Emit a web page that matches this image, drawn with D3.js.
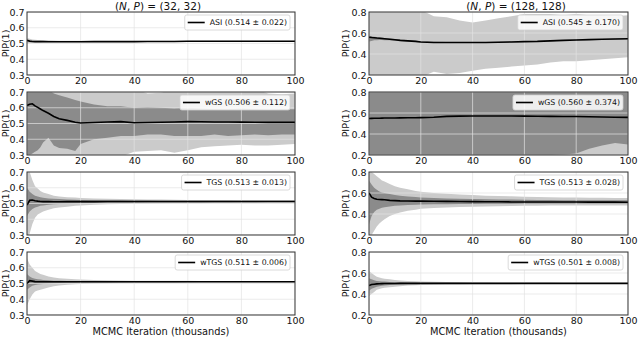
<!DOCTYPE html>
<html>
<head>
<meta charset="utf-8">
<script src="https://cdn.jsdelivr.net/npm/d3@7"></script>
<style>
body { margin: 0; background: #fff; }
svg { display: block; }
</style>
</head>
<body>
<script>
var iters = [0, 1, 2, 3, 4, 5, 6, 8, 10, 12,
             15, 18, 20, 25, 30, 35, 40, 45, 50, 55,
             60, 65, 70, 75, 80, 85, 90, 95, 100];

var xTicks = [0, 20, 40, 60, 80, 100];
var yTicksLeft = [0.3, 0.4, 0.5, 0.6, 0.7];
var yTicksRight = [0.2, 0.4, 0.6, 0.8];

var titles = ["(32, 32)", "(128, 128)"];
var legendLeft = ["ASI (0.514 \u00b1 0.022)", "wGS (0.506 \u00b1 0.112)", "TGS (0.513 \u00b1 0.013)", "wTGS (0.511 \u00b1 0.006)"];
var legendRight = ["ASI (0.545 \u00b1 0.170)", "wGS (0.560 \u00b1 0.374)", "TGS (0.513 \u00b1 0.028)", "wTGS (0.501 \u00b1 0.008)"];

// ---- (N,P) = (32,32) ----
var asiMeanL = [0.520,0.515,0.513,0.512,0.512,0.512,0.512,0.511,0.511,0.511,
  0.511,0.511,0.511,0.512,0.512,0.512,0.512,0.513,0.513,0.513,
  0.514,0.514,0.514,0.514,0.514,0.514,0.514,0.514,0.514];
var asiOutHiL = [0.535,0.530,0.526,0.524,0.523,0.522,0.521,0.520,0.519,0.518,
  0.518,0.517,0.517,0.516,0.516,0.516,0.516,0.517,0.517,0.517,
  0.517,0.518,0.518,0.518,0.517,0.517,0.517,0.517,0.517];
var asiOutLoL = [0.500,0.502,0.503,0.504,0.505,0.505,0.506,0.506,0.506,0.507,
  0.507,0.507,0.507,0.508,0.508,0.508,0.508,0.509,0.509,0.509,
  0.510,0.510,0.510,0.511,0.511,0.511,0.511,0.511,0.511];

var wgsMeanL = [0.615,0.622,0.625,0.612,0.602,0.592,0.582,0.565,0.545,0.530,
  0.520,0.508,0.503,0.506,0.510,0.512,0.505,0.506,0.508,0.510,
  0.512,0.511,0.510,0.510,0.509,0.508,0.507,0.507,0.507];
var wgsInHiL = [0.720,0.720,0.720,0.720,0.720,0.720,0.720,0.715,0.690,0.680,
  0.665,0.650,0.640,0.620,0.610,0.610,0.600,0.605,0.600,0.595,
  0.600,0.595,0.590,0.590,0.595,0.590,0.585,0.590,0.590];
var wgsInLoL = [0.300,0.300,0.310,0.320,0.330,0.350,0.380,0.410,0.360,0.345,
  0.340,0.325,0.370,0.400,0.410,0.420,0.420,0.430,0.430,0.420,
  0.420,0.420,0.430,0.420,0.425,0.430,0.425,0.430,0.430];
var wgsOutHiL = [0.720,0.720,0.720,0.720,0.720,0.720,0.720,0.720,0.720,0.720,
  0.720,0.720,0.720,0.720,0.720,0.720,0.720,0.690,0.695,0.720,
  0.720,0.720,0.720,0.720,0.720,0.720,0.690,0.685,0.690];
var wgsOutLoL = [0.280,0.280,0.280,0.280,0.280,0.280,0.280,0.280,0.280,0.280,
  0.280,0.280,0.280,0.280,0.280,0.290,0.320,0.325,0.330,0.315,
  0.330,0.350,0.355,0.360,0.365,0.360,0.360,0.365,0.370];

var tgsMeanL = [0.490,0.520,0.522,0.518,0.515,0.513,0.512,0.512,0.511,0.511,
  0.512,0.512,0.512,0.512,0.513,0.513,0.513,0.513,0.513,0.513,
  0.513,0.513,0.513,0.513,0.513,0.513,0.513,0.513,0.513];
var tgsOutHiL = [0.720,0.700,0.650,0.610,0.595,0.580,0.570,0.560,0.550,0.545,
  0.540,0.538,0.535,0.532,0.530,0.528,0.527,0.526,0.525,0.524,
  0.523,0.523,0.522,0.522,0.521,0.521,0.520,0.520,0.520];
var tgsOutLoL = [0.280,0.310,0.370,0.410,0.430,0.440,0.450,0.460,0.470,0.475,
  0.480,0.485,0.488,0.492,0.495,0.497,0.498,0.499,0.500,0.501,
  0.502,0.502,0.503,0.503,0.504,0.504,0.505,0.505,0.505];
var tgsInHiL = [0.600,0.575,0.560,0.550,0.545,0.540,0.536,0.532,0.530,0.528,
  0.526,0.524,0.523,0.521,0.520,0.520,0.519,0.519,0.518,0.518,
  0.518,0.518,0.518,0.517,0.517,0.517,0.517,0.517,0.517];
var tgsInLoL = [0.420,0.450,0.465,0.475,0.480,0.485,0.488,0.492,0.495,0.497,
  0.499,0.500,0.501,0.503,0.504,0.505,0.505,0.506,0.506,0.507,
  0.507,0.507,0.508,0.508,0.508,0.508,0.509,0.509,0.509];

var wtgsMeanL = [0.500,0.518,0.515,0.512,0.511,0.511,0.511,0.511,0.511,0.511,
  0.511,0.511,0.511,0.511,0.511,0.511,0.511,0.511,0.511,0.511,
  0.511,0.511,0.511,0.511,0.511,0.511,0.511,0.511,0.511];
var wtgsOutHiL = [0.660,0.620,0.600,0.580,0.570,0.560,0.555,0.545,0.538,0.534,
  0.530,0.527,0.525,0.522,0.520,0.519,0.518,0.518,0.517,0.517,
  0.517,0.516,0.516,0.516,0.516,0.516,0.516,0.516,0.516];
var wtgsOutLoL = [0.360,0.400,0.430,0.450,0.455,0.460,0.465,0.475,0.482,0.487,
  0.492,0.495,0.497,0.500,0.502,0.503,0.504,0.504,0.505,0.505,
  0.505,0.506,0.506,0.506,0.506,0.506,0.506,0.506,0.506];
var wtgsInHiL = [0.560,0.545,0.535,0.530,0.527,0.525,0.523,0.520,0.518,0.517,
  0.516,0.515,0.515,0.514,0.514,0.513,0.513,0.513,0.513,0.513,
  0.513,0.513,0.513,0.513,0.513,0.513,0.513,0.513,0.513];
var wtgsInLoL = [0.460,0.475,0.485,0.490,0.493,0.495,0.497,0.500,0.502,0.503,
  0.504,0.505,0.506,0.507,0.507,0.508,0.508,0.508,0.508,0.508,
  0.509,0.509,0.509,0.509,0.509,0.509,0.509,0.509,0.509];

// ---- (N,P) = (128,128) ----
var asiMeanR = [0.560,0.557,0.555,0.552,0.550,0.548,0.545,0.540,0.535,0.530,
  0.525,0.520,0.515,0.510,0.510,0.510,0.510,0.510,0.512,0.515,
  0.518,0.520,0.525,0.530,0.533,0.537,0.540,0.543,0.545];
var asiOutHiR = [0.820,0.820,0.820,0.820,0.820,0.820,0.820,0.820,0.820,0.820,
  0.820,0.820,0.820,0.760,0.750,0.720,0.700,0.720,0.740,0.760,
  0.780,0.780,0.780,0.770,0.780,0.770,0.770,0.760,0.770];
var asiOutLoR = [0.180,0.180,0.180,0.180,0.180,0.180,0.180,0.180,0.180,0.180,
  0.180,0.180,0.180,0.230,0.210,0.220,0.240,0.260,0.270,0.280,
  0.290,0.300,0.320,0.330,0.330,0.340,0.350,0.360,0.370];
var asiInHiR = [0.575,0.570,0.565,0.562,0.560,0.557,0.553,0.548,0.542,0.537,
  0.531,0.526,0.521,0.516,0.515,0.515,0.515,0.515,0.516,0.519,
  0.522,0.524,0.529,0.534,0.537,0.541,0.544,0.547,0.549];
var asiInLoR = [0.520,0.525,0.530,0.532,0.533,0.533,0.532,0.530,0.527,0.523,
  0.519,0.514,0.509,0.505,0.505,0.505,0.505,0.505,0.508,0.511,
  0.514,0.516,0.521,0.526,0.529,0.533,0.536,0.539,0.541];

var wgsMeanR = [0.548,0.549,0.550,0.550,0.550,0.551,0.552,0.553,0.553,0.554,
  0.555,0.555,0.556,0.560,0.568,0.570,0.572,0.572,0.572,0.571,
  0.570,0.569,0.568,0.567,0.566,0.564,0.562,0.560,0.558];
var wgsInHiR = [0.820,0.820,0.820,0.820,0.820,0.820,0.820,0.820,0.820,0.820,
  0.820,0.820,0.820,0.820,0.820,0.820,0.820,0.820,0.820,0.820,
  0.820,0.820,0.820,0.820,0.820,0.820,0.820,0.820,0.820];
var wgsInLoR = [0.180,0.180,0.180,0.180,0.180,0.180,0.180,0.180,0.180,0.180,
  0.180,0.180,0.180,0.180,0.180,0.180,0.180,0.180,0.180,0.180,
  0.180,0.195,0.200,0.205,0.215,0.260,0.290,0.315,0.300];
var wgsOutHiR = [0.820,0.820,0.820,0.820,0.820,0.820,0.820,0.820,0.820,0.820,
  0.820,0.820,0.820,0.820,0.820,0.820,0.820,0.820,0.820,0.820,
  0.820,0.820,0.820,0.820,0.820,0.820,0.820,0.820,0.820];
var wgsOutLoR = [0.180,0.180,0.180,0.180,0.180,0.180,0.180,0.180,0.180,0.180,
  0.180,0.180,0.180,0.180,0.180,0.180,0.180,0.180,0.180,0.180,
  0.180,0.180,0.180,0.180,0.180,0.180,0.180,0.180,0.180];

var tgsMeanR = [0.600,0.560,0.548,0.540,0.538,0.537,0.535,0.530,0.527,0.525,
  0.524,0.523,0.523,0.522,0.520,0.519,0.518,0.517,0.516,0.515,
  0.515,0.515,0.515,0.514,0.514,0.513,0.513,0.513,0.512];
var tgsOutHiR = [0.820,0.800,0.780,0.760,0.740,0.720,0.710,0.685,0.665,0.650,
  0.635,0.620,0.612,0.600,0.592,0.586,0.580,0.575,0.572,0.568,
  0.565,0.562,0.560,0.558,0.556,0.555,0.554,0.553,0.552];
var tgsOutLoR = [0.180,0.200,0.240,0.280,0.310,0.330,0.350,0.380,0.400,0.415,
  0.430,0.440,0.450,0.458,0.463,0.467,0.470,0.472,0.475,0.477,
  0.478,0.479,0.480,0.480,0.481,0.481,0.482,0.482,0.482];
var tgsInHiR = [0.720,0.680,0.650,0.630,0.615,0.605,0.600,0.590,0.580,0.573,
  0.566,0.561,0.558,0.552,0.548,0.545,0.542,0.540,0.538,0.537,
  0.535,0.534,0.533,0.532,0.531,0.531,0.530,0.530,0.530];
var tgsInLoR = [0.300,0.380,0.420,0.440,0.450,0.460,0.465,0.472,0.478,0.482,
  0.486,0.488,0.490,0.492,0.494,0.495,0.496,0.497,0.498,0.498,
  0.499,0.499,0.500,0.500,0.500,0.500,0.501,0.501,0.501];

var wtgsMeanR = [0.480,0.490,0.493,0.496,0.498,0.499,0.500,0.500,0.500,0.501,
  0.501,0.501,0.501,0.501,0.501,0.501,0.501,0.501,0.501,0.501,
  0.501,0.501,0.501,0.501,0.501,0.501,0.501,0.501,0.501];
var wtgsOutHiR = [0.620,0.600,0.580,0.565,0.557,0.550,0.545,0.540,0.533,0.528,
  0.525,0.522,0.520,0.517,0.515,0.513,0.512,0.511,0.510,0.510,
  0.509,0.509,0.509,0.508,0.508,0.508,0.508,0.508,0.508];
var wtgsOutLoR = [0.380,0.400,0.420,0.440,0.448,0.455,0.460,0.465,0.470,0.475,
  0.480,0.483,0.485,0.488,0.490,0.491,0.492,0.493,0.494,0.494,
  0.495,0.495,0.495,0.495,0.495,0.495,0.495,0.495,0.495];
var wtgsInHiR = [0.550,0.540,0.530,0.525,0.522,0.520,0.518,0.515,0.513,0.512,
  0.510,0.509,0.508,0.507,0.506,0.506,0.505,0.505,0.505,0.504,
  0.504,0.504,0.504,0.504,0.504,0.504,0.504,0.504,0.504];
var wtgsInLoR = [0.430,0.450,0.460,0.468,0.473,0.478,0.482,0.486,0.489,0.491,
  0.493,0.494,0.495,0.496,0.497,0.497,0.498,0.498,0.498,0.498,
  0.498,0.498,0.498,0.498,0.498,0.498,0.498,0.498,0.498];

// table for drawing
var columns = [
  { yDomain: [0.3, 0.7], yTicks: yTicksLeft, title: titles[0], panels: [
    { label: legendLeft[0], mean: asiMeanL, outHi: asiOutHiL, outLo: asiOutLoL },
    { label: legendLeft[1], mean: wgsMeanL, outHi: wgsOutHiL, outLo: wgsOutLoL, inHi: wgsInHiL, inLo: wgsInLoL },
    { label: legendLeft[2], mean: tgsMeanL, outHi: tgsOutHiL, outLo: tgsOutLoL, inHi: tgsInHiL, inLo: tgsInLoL },
    { label: legendLeft[3], mean: wtgsMeanL, outHi: wtgsOutHiL, outLo: wtgsOutLoL, inHi: wtgsInHiL, inLo: wtgsInLoL }
  ]},
  { yDomain: [0.2, 0.8], yTicks: yTicksRight, title: titles[1], panels: [
    { label: legendRight[0], mean: asiMeanR, outHi: asiOutHiR, outLo: asiOutLoR, inHi: asiInHiR, inLo: asiInLoR },
    { label: legendRight[1], mean: wgsMeanR, outHi: wgsOutHiR, outLo: wgsOutLoR, inHi: wgsInHiR, inLo: wgsInLoR },
    { label: legendRight[2], mean: tgsMeanR, outHi: tgsOutHiR, outLo: tgsOutLoR, inHi: tgsInHiR, inLo: tgsInLoR },
    { label: legendRight[3], mean: wtgsMeanR, outHi: wtgsOutHiR, outLo: wtgsOutLoR, inHi: wtgsInHiR, inLo: wtgsInLoR }
  ]}
];

// layout
var width = 640, height = 337;
var colLeft = [27, 369], colRight = [295, 628];
var titleX = [158, 516], yLabelX = [6, 346];
var rowTop = [12, 92, 172, 252], panelH = 63;
var lightGray = "#cbcbcb", darkGray = "#8b8b8b";

var svg = d3.select("body").append("svg")
    .attr("width", width)
    .attr("height", height)
    .style("font-family", "'DejaVu Sans', sans-serif");

var idx = d3.range(iters.length);

columns.forEach(function(col, ci){
    var x = d3.scaleLinear().domain([0, 100]).range([colLeft[ci], colRight[ci]]);

    //column title with italic N, P
    var t = svg.append("text")
        .attr("x", titleX[ci]).attr("y", 10)
        .attr("text-anchor", "middle")
        .style("font-size", "10.5px").attr("fill", "#111");
    t.append("tspan").text("(");
    t.append("tspan").style("font-style", "italic").text("N");
    t.append("tspan").text(", ");
    t.append("tspan").style("font-style", "italic").text("P");
    t.append("tspan").text(") = " + col.title);

    col.panels.forEach(function(p, ri){
        var top = rowTop[ri], bottom = top + panelH;
        var y = d3.scaleLinear().domain(col.yDomain).range([bottom, top]);
        var g = svg.append("g");
        var clipId = "clip" + ci + ri;

        g.append("clipPath").attr("id", clipId)
          .append("rect")
            .attr("x", x(0)).attr("y", top)
            .attr("width", x(100) - x(0)).attr("height", panelH);

        var plot = g.append("g").attr("clip-path", "url(#" + clipId + ")");

        function band(hi, lo){
            return d3.area()
                .x(function(i){ return x(iters[i]); })
                .y0(function(i){ return y(lo[i]); })
                .y1(function(i){ return y(hi[i]); })(idx);
        }

        plot.append("path").attr("d", band(p.outHi, p.outLo)).attr("fill", lightGray);
        if (p.inHi) {
            plot.append("path").attr("d", band(p.inHi, p.inLo)).attr("fill", darkGray);
        }

        //grid on top of the bands
        plot.selectAll(".gx").data(xTicks).enter().append("line")
            .attr("x1", function(d){ return x(d); }).attr("x2", function(d){ return x(d); })
            .attr("y1", top).attr("y2", bottom)
            .attr("stroke", "#e2e2e2").attr("stroke-opacity", 0.7).attr("stroke-width", 1);
        plot.selectAll(".gy").data(col.yTicks).enter().append("line")
            .attr("x1", x(0)).attr("x2", x(100))
            .attr("y1", function(d){ return y(d); }).attr("y2", function(d){ return y(d); })
            .attr("stroke", "#e2e2e2").attr("stroke-opacity", 0.7).attr("stroke-width", 1);

        plot.append("path")
            .attr("d", d3.line()
                .x(function(i){ return x(iters[i]); })
                .y(function(i){ return y(p.mean[i]); })(idx))
            .attr("fill", "none")
            .attr("stroke", "#000")
            .attr("stroke-width", 1.6);

        //frame
        g.append("rect")
            .attr("x", x(0)).attr("y", top)
            .attr("width", x(100) - x(0)).attr("height", panelH)
            .attr("fill", "none").attr("stroke", "#333").attr("stroke-width", 1);

        //axes
        var xa = g.append("g")
            .attr("transform", "translate(0," + bottom + ")")
            .call(d3.axisBottom(x).tickValues(xTicks).tickSize(0).tickPadding(2.5));
        var ya = g.append("g")
            .attr("transform", "translate(" + x(0) + ",0)")
            .call(d3.axisLeft(y).tickValues(col.yTicks).tickSize(0).tickPadding(2.5)
                .tickFormat(d3.format(".1f")));
        [xa, ya].forEach(function(a){
            a.select(".domain").remove();
            a.selectAll("text")
                .style("font-family", "'DejaVu Sans', sans-serif")
                .style("font-size", "9.5px")
                .attr("fill", "#111");
        });

        //y label
        svg.append("text")
            .attr("transform", "translate(" + yLabelX[ci] + "," + (top + panelH / 2) + ") rotate(-90)")
            .attr("text-anchor", "middle")
            .attr("dy", "0.35em")
            .style("font-size", "9.5px").attr("fill", "#111")
            .text("PIP(1)");

        //legend
        var lg = g.append("g");
        var box = lg.append("rect")
            .attr("rx", 2).attr("ry", 2)
            .attr("fill", "#fff").attr("fill-opacity", 0.85)
            .attr("stroke", "#d0d0d0").attr("stroke-width", 0.8);
        var txt = lg.append("text")
            .attr("y", 0).attr("dy", "0.35em")
            .style("font-size", "7.8px").attr("fill", "#111")
            .text(p.label);
        var tw = txt.node().getComputedTextLength();
        var bw = 3 + 17 + 5 + tw + 3;
        var bx = x(100) - 5 - bw, by = top + 3;
        box.attr("x", bx).attr("y", by).attr("width", bw).attr("height", 15);
        txt.attr("x", bx + 25).attr("y", by + 7.5);
        lg.append("line")
            .attr("x1", bx + 3).attr("x2", bx + 20)
            .attr("y1", by + 7.5).attr("y2", by + 7.5)
            .attr("stroke", "#000").attr("stroke-width", 1.6);
    });

    svg.append("text")
        .attr("x", (colLeft[ci] + colRight[ci]) / 2).attr("y", 335)
        .attr("text-anchor", "middle")
        .style("font-size", "9.8px").attr("fill", "#111")
        .text("MCMC Iteration (thousands)");
});
</script>
</body>
</html>
